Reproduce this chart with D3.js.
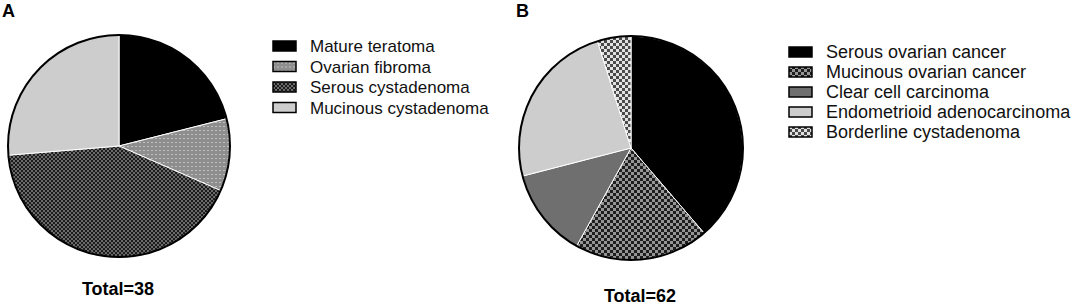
<!DOCTYPE html>
<html>
<head>
<meta charset="utf-8">
<script src="https://cdn.jsdelivr.net/npm/d3@7"></script>
<style>
  body { margin: 0; background: #fff; }
  svg text { font-family: "Liberation Sans", Arial, sans-serif; }
</style>
</head>
<body>
<svg id="chart" width="1080" height="306"></svg>
<script>
// パネルA: 良性腫瘍
const categoriesA = ['Mature teratoma', 'Ovarian fibroma', 'Serous cystadenoma', 'Mucinous cystadenoma'];
const valuesA = [8, 4, 16, 10];
const fillsA = ['solid-black', 'dots', 'checker-dark', 'solid-light'];

// パネルB: 悪性腫瘍
const categoriesB = ['Serous ovarian cancer', 'Mucinous ovarian cancer', 'Clear cell carcinoma',
  'Endometrioid adenocarcinoma', 'Borderline cystadenoma'];
const valuesB = [24, 12, 8, 15, 3];
const fillsB = ['solid-black', 'checker-mid', 'solid-mid', 'solid-light', 'checker-light'];

const svg = d3.select('#chart');
const defs = svg.append('defs');

// 塗りパターン
function addPattern(id, size, bg, cells) {
  const p = defs.append('pattern')
    .attr('id', id)
    .attr('patternUnits', 'userSpaceOnUse')
    .attr('width', size)
    .attr('height', size);
  p.append('rect').attr('width', size).attr('height', size).attr('fill', bg);
  cells.forEach(c => {
    p.append('rect').attr('x', c[0]).attr('y', c[1]).attr('width', c[2]).attr('height', c[3]).attr('fill', c[4]);
  });
}
addPattern('dots', 4, '#8e8e8e', [[0, 0, 2, 1, '#c0c0c0']]);
addPattern('checker-dark', 4, '#1c1c1c', [[0, 0, 2, 2, '#6a6a6a'], [2, 2, 2, 2, '#6a6a6a']]);
addPattern('checker-mid', 6, '#1e1e1e', [[0, 0, 3, 3, '#959595'], [3, 3, 3, 3, '#959595']]);
addPattern('checker-light', 6, '#4a4a4a', [[0, 0, 3, 3, '#e2e2e2'], [3, 3, 3, 3, '#e2e2e2']]);

const fillMap = {
  'solid-black': '#000',
  'solid-light': '#cdcdcd',
  'solid-mid': '#6f6f6f',
  'dots': 'url(#dots)',
  'checker-dark': 'url(#checker-dark)',
  'checker-mid': 'url(#checker-mid)',
  'checker-light': 'url(#checker-light)'
};

function drawPanel(opt) {
  const pie = d3.pie().sort(null).value(d => d.value);
  const arc = d3.arc().innerRadius(0).outerRadius(opt.r);
  const data = opt.categories.map((c, i) => ({ name: c, value: opt.values[i], fill: opt.fills[i] }));

  const g = svg.append('g').attr('transform', `translate(${opt.cx},${opt.cy})`);
  g.selectAll('path')
    .data(pie(data))
    .enter()
    .append('path')
    .attr('d', arc)
    .attr('fill', d => fillMap[d.data.fill])
    .attr('stroke', '#fff')
    .attr('stroke-width', 1);
  // 外枠
  g.append('circle').attr('r', opt.r).attr('fill', 'none').attr('stroke', '#000').attr('stroke-width', 2);

  // パネルラベル
  svg.append('text')
    .attr('x', opt.labelX).attr('y', opt.labelY)
    .attr('font-size', 18).attr('font-weight', 'bold')
    .text(opt.label);

  // 合計
  const total = d3.sum(opt.values);
  svg.append('text')
    .attr('x', opt.totalX).attr('y', opt.totalY)
    .attr('text-anchor', 'middle')
    .attr('font-size', 18).attr('font-weight', 'bold')
    .text('Total=' + total);

  // 凡例
  const legend = svg.append('g').attr('transform', `translate(${opt.legendX},${opt.legendY})`);
  const items = legend.selectAll('g')
    .data(data)
    .enter()
    .append('g')
    .attr('transform', (d, i) => `translate(0,${i * opt.legendStep})`);
  items.append('rect')
    .attr('x', 0).attr('y', -5)
    .attr('width', 23).attr('height', 10)
    .attr('fill', d => fillMap[d.fill])
    .attr('stroke', '#000').attr('stroke-width', 1.5);
  items.append('text')
    .attr('x', 37).attr('y', 6)
    .attr('font-size', opt.legendFont)
    .attr('fill', '#111')
    .text(d => d.name);
}

drawPanel({
  categories: categoriesA, values: valuesA, fills: fillsA,
  cx: 119, cy: 146, r: 111,
  label: 'A', labelX: 2, labelY: 17,
  totalX: 118, totalY: 295,
  legendX: 273, legendY: 46, legendStep: 20.5, legendFont: 17
});

drawPanel({
  categories: categoriesB, values: valuesB, fills: fillsB,
  cx: 631, cy: 148, r: 112,
  label: 'B', labelX: 516, labelY: 17,
  totalX: 640, totalY: 302,
  legendX: 789, legendY: 52, legendStep: 20, legendFont: 18
});
</script>
</body>
</html>
